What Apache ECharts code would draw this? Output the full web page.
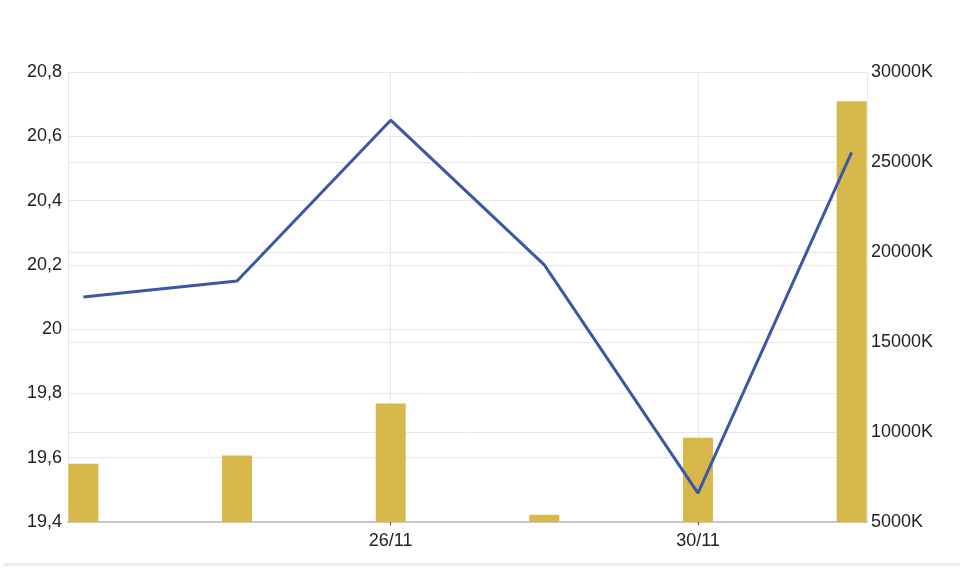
<!DOCTYPE html>
<html>
<head>
<meta charset="utf-8">
<script src="https://cdn.jsdelivr.net/npm/echarts@6/dist/echarts.min.js"></script>
<style>
html,body{margin:0;padding:0;background:#fff;}
#chart{width:960px;height:568px;}
</style>
</head>
<body>
<div id="chart"></div>
<script>
var dates = ['24/11', '25/11', '26/11', '29/11', '30/11', '01/12'];
var labelIdx = [2, 4];
var priceValues = [20.10, 20.15, 20.65, 20.20, 19.49, 20.55];
var volumeValues = [8230, 8690, 11580, 5400, 9680, 28380];

var chart = echarts.init(document.getElementById('chart'), null, {renderer: 'canvas'});
var font = 'Liberation Sans, Arial, sans-serif';
var gridColor = '#e8e8e8';
var textColor = '#222';

var option = {
  animation: false,
  backgroundColor: '#fff',
  grid: {left: 68, right: 93, top: 72, bottom: 46, containLabel: false},
  xAxis: {
    type: 'value', min: -0.1, max: 5.1,
    axisLine: {show: true, onZero: false, lineStyle: {color: '#c8c8c8', width: 2}},
    axisTick: {show: true, customValues: labelIdx, length: 3, lineStyle: {color: '#444', width: 1}},
    axisLabel: {
      customValues: labelIdx, color: textColor, fontSize: 18, fontFamily: font, margin: 10,
      formatter: function (v) { return dates[Math.round(v)]; }
    },
    splitLine: {show: false}
  },
  yAxis: [
    {
      type: 'value', min: 19.4, max: 20.8, interval: 0.2, position: 'left',
      axisLine: {show: true, onZero: false, lineStyle: {color: gridColor, width: 1}},
      axisTick: {show: false},
      axisLabel: {
        color: textColor, fontSize: 18, fontFamily: font, margin: 6,
        formatter: function (v) { return String(Math.round(v * 10) / 10).replace('.', ','); }
      },
      splitLine: {show: true, lineStyle: {color: gridColor, width: 1}}
    },
    {
      type: 'value', min: 5000, max: 30000, interval: 5000, position: 'right',
      axisLine: {show: true, onZero: false, lineStyle: {color: gridColor, width: 1}},
      axisTick: {show: false},
      axisLabel: {
        color: textColor, fontSize: 18, fontFamily: font, margin: 4,
        formatter: function (v) { return v + 'K'; }
      },
      splitLine: {show: true, lineStyle: {color: gridColor, width: 1}}
    }
  ],
  series: [
    {
      type: 'line', yAxisIndex: 0, data: [], z: 1, silent: true,
      markLine: {
        silent: true, symbol: 'none', z: 1, label: {show: false},
        lineStyle: {color: gridColor, width: 1, type: 'solid'},
        data: labelIdx.map(function (i) { return {xAxis: i}; })
      }
    },
    {
      type: 'bar', yAxisIndex: 1, barWidth: 30, clip: true,
      itemStyle: {color: '#d6b94a'},
      data: volumeValues.map(function (v, i) { return [i, v]; }),
      z: 2
    },
    {
      type: 'line', yAxisIndex: 0, symbol: 'none',
      lineStyle: {color: '#3d57a6', width: 3},
      data: priceValues.map(function (v, i) { return [i, v]; }),
      z: 3
    }
  ],
  graphic: [
    {type: 'rect', shape: {x: 4, y: 563, width: 956, height: 3}, style: {fill: '#ececec'}, silent: true}
  ]
};
chart.setOption(option);
</script>
</body>
</html>
